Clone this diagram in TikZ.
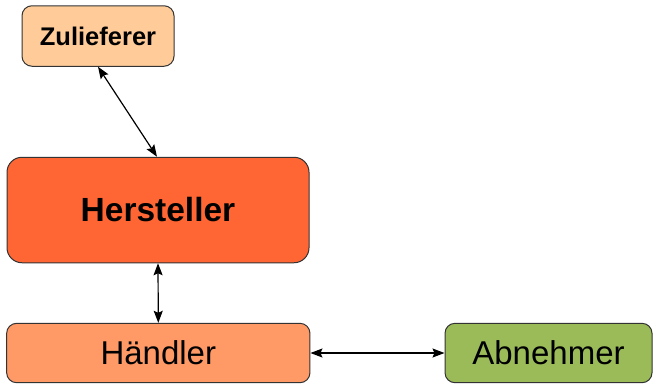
\documentclass[tikz,border=0pt]{standalone}
\usepackage{fontspec}
\setmainfont{Liberation Sans}
\usetikzlibrary{arrows.meta}
\definecolor{zulc}{HTML}{FFCC99}
\definecolor{herc}{HTML}{FF6633}
\definecolor{haec}{HTML}{FF9966}
\definecolor{abnc}{HTML}{9BBB59}
\definecolor{edgec}{HTML}{333333}
\begin{document}
\begin{tikzpicture}[x=1pt,y=1pt,
  box/.style={draw=edgec,line width=1pt,rectangle,inner sep=0pt,align=center},
  conn/.style={line width=1.2pt,{Stealth[length=12pt,width=9pt,inset=2pt]}-{Stealth[length=12pt,width=9pt,inset=2pt]}}]
\useasboundingbox (0,0) rectangle (653,-384);
\node[box,fill=zulc,rounded corners=10pt,minimum width=152pt,minimum height=60.5pt,font=\fontsize{25.5}{30}\selectfont\bfseries] (zul) at (98,-36) {Zulieferer};
\node[box,fill=herc,rounded corners=15pt,minimum width=302pt,minimum height=105.5pt,font=\fontsize{33.5}{40}\selectfont\bfseries] (her) at (158,-210) {Hersteller};
\node[box,fill=haec,rounded corners=10pt,minimum width=303.3pt,minimum height=59.4pt,font=\fontsize{33}{40}\selectfont] (hae) at (158.3,-353) {Händler};
\node[box,fill=abnc,rounded corners=10pt,minimum width=207pt,minimum height=59.4pt,font=\fontsize{33}{40}\selectfont] (abn) at (548.5,-353) {Abnehmer};
\draw[conn] (zul.south) -- ([xshift=-1pt]her.north);
\draw[conn] (her.south) -- (hae.north);
\draw[conn] (hae.east) -- (abn.west);
\end{tikzpicture}
\end{document}
